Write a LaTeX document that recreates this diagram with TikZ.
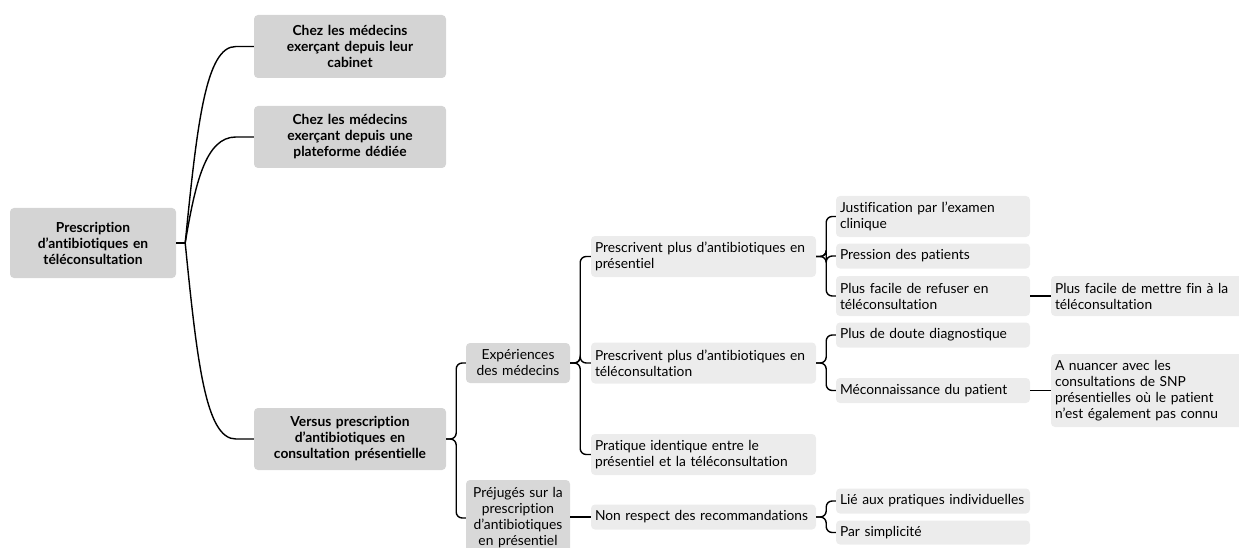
\documentclass[tikz,border=0pt]{standalone}
\usepackage{fontspec}
\setmainfont{Lato}[Ligatures={NoCommon}]
\usetikzlibrary{calc}
\definecolor{boxA}{RGB}{212,212,212}
\definecolor{boxB}{RGB}{216,216,216}
\definecolor{boxC}{RGB}{236,236,236}
\tikzset{
  base/.style={rounded corners=4pt, inner sep=0pt, font=\fontsize{13.8}{16}\selectfont},
  lvlA/.style={base, fill=boxA, align=center, font=\bfseries\fontsize{13.8}{16}\selectfont},
  lvlB/.style={base, fill=boxB, align=center},
  lvlC/.style={base, fill=boxC, align=left},
  conn/.style={draw=black, line width=1.4pt},
  brk/.style={conn, rounded corners=6pt},
}
\begin{document}
\begin{tikzpicture}[x=1pt,y=-1pt]
\useasboundingbox (0,0) rectangle (1239,548);
% level A
\node[lvlA, minimum width=166pt, minimum height=70pt, text width=156pt] (root) at (93,243) {Prescription\\d’antibiotiques en\\téléconsultation};
\node[lvlA, minimum width=192pt, minimum height=63pt, text width=182pt] (n1) at (350,46.5) {Chez les médecins\\exerçant depuis leur\\cabinet};
\node[lvlA, minimum width=192pt, minimum height=62pt, text width=182pt] (n2) at (350,137) {Chez les médecins\\exerçant depuis une\\plateforme dédiée};
\node[lvlA, minimum width=192pt, minimum height=62pt, text width=182pt] (n3) at (350,439) {Versus prescription\\d’antibiotiques en\\consultation présentielle};
% level B
\node[lvlB, minimum width=104pt, minimum height=40pt, text width=100pt] (exp) at (518,363) {Expériences\\des médecins};
\node[lvlB, minimum width=104pt, minimum height=76pt, text width=100pt] (prej) at (518,518) {Préjugés sur la\\prescription\\d’antibiotiques\\en présentiel};
% level C
\node[lvlC, minimum width=225pt, minimum height=41pt, text width=217pt] (pp) at (703.5,256.5) {Prescrivent plus d’antibiotiques en\\présentiel};
\node[lvlC, minimum width=225pt, minimum height=41pt, text width=217pt] (pt) at (703.5,363) {Prescrivent plus d’antibiotiques en\\téléconsultation};
\node[lvlC, minimum width=225pt, minimum height=41pt, text width=217pt] (pi) at (703.5,454.5) {Pratique identique entre le\\présentiel et la téléconsultation};
\node[lvlC, minimum width=225pt, minimum height=25pt, text width=217pt] (nr) at (703.5,517) {Non respect des recommandations};
% level D
\node[lvlC, minimum width=194pt, minimum height=41pt, text width=186pt] (ju) at (933,216.5) {Justification par l’examen\\clinique};
\node[lvlC, minimum width=194pt, minimum height=25pt, text width=186pt] (pr) at (933,256) {Pression des patients};
\node[lvlC, minimum width=194pt, minimum height=40pt, text width=186pt] (pf) at (933,296) {Plus facile de refuser en\\téléconsultation};
\node[lvlC, minimum width=194pt, minimum height=25pt, text width=186pt] (pd) at (933,335) {Plus de doute diagnostique};
\node[lvlC, minimum width=194pt, minimum height=25pt, text width=186pt] (me) at (933,390.5) {Méconnaissance du patient};
\node[lvlC, minimum width=194pt, minimum height=25pt, text width=186pt] (li) at (933,501) {Lié aux pratiques individuelles};
\node[lvlC, minimum width=194pt, minimum height=24pt, text width=186pt] (ps) at (933,532.5) {Par simplicité};
% level E
\node[lvlC, minimum width=194pt, minimum height=40pt, text width=186pt] (mf) at (1148,296) {Plus facile de mettre fin à la\\téléconsultation};
\node[lvlC, minimum width=194pt, minimum height=73pt, text width=186pt] (an) at (1148,390.5) {A nuancer avec les\\consultations de SNP\\présentielles où le patient\\n’est également pas connu};
% root connectors
\draw[conn] (root.east) -- ++(9,0) coordinate (r0);
\draw[conn] (r0) .. controls +(12,-120) and +(-30,0) .. ($(n1.west)+(-18,0)$) -- (n1.west);
\draw[conn] (r0) .. controls +(10,-60) and +(-30,0) .. ($(n2.west)+(-18,0)$) -- (n2.west);
\draw[conn] (r0) .. controls +(12,120) and +(-30,0) .. ($(n3.west)+(-18,0)$) -- (n3.west);
% brackets
\foreach \c in {exp,prej} \draw[brk] (n3.east) -- ++(10,0) |- (\c.west);
\foreach \c in {pp,pt,pi} \draw[brk] (exp.east) -- ++(10,0) |- (\c.west);
\draw[conn] (prej.east |- nr.west) -- (nr.west);
\foreach \c in {ju,pr,pf} \draw[brk] (pp.east) -- ++(10,0) |- (\c.west);
\foreach \c in {pd,me} \draw[brk] (pt.east) -- ++(10,0) |- (\c.west);
\foreach \c in {li,ps} \draw[brk] (nr.east) -- ++(10,0) |- (\c.west);
\draw[conn] (pf.east) -- (mf.west);
\draw[conn] (me.east) -- (an.west);
\end{tikzpicture}
\end{document}
